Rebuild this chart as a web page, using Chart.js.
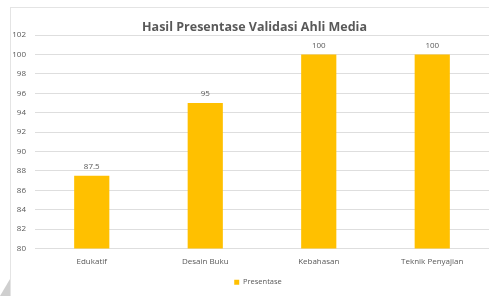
<!DOCTYPE html>
<html>
<head>
<meta charset="utf-8">
<script src="https://cdn.jsdelivr.net/npm/chart.js@4/dist/chart.umd.min.js"></script>
<style>
  html, body { margin: 0; padding: 0; background: #fff; }
  #wrap { width: 489px; height: 296px; position: relative; }
</style>
</head>
<body>
<div id="wrap"><canvas id="chart" width="489" height="296"></canvas></div>
<script>
const categories = ['Edukatif', 'Desain Buku', 'Kebahasan', 'Teknik Penyajian'];
const presentase = [87.5, 95, 100, 100];
const yMin = 80;
const yMax = 102;
const yStep = 2;

const textGrey = '#595959';
const fontFamily = '"Open Sans", "Noto Sans", sans-serif';

// frame + the grey corner of the scanned page
const framePlugin = {
    id: 'frame',
    beforeDraw(chart) {
        const ctx = chart.ctx;
        ctx.save();
        ctx.fillStyle = '#fff';
        ctx.fillRect(0, 0, chart.width, chart.height);
        ctx.strokeStyle = '#e4e4e4';
        ctx.lineWidth = 1;
        ctx.strokeRect(10.5, 7.5, chart.width, chart.height);
        ctx.fillStyle = '#cfcfcf';
        ctx.beginPath();
        ctx.moveTo(0, chart.height);
        ctx.lineTo(10, 279);
        ctx.lineTo(10, chart.height);
        ctx.closePath();
        ctx.fill();
        ctx.restore();
    },
    // centre title and legend on the framed box rather than the full canvas
    afterLayout(chart) {
        if (chart.titleBlock) chart.titleBlock.left = 20;
        if (chart.legend) chart.legend.left = 27;
    }
};

const valueLabels = {
    id: 'valueLabels',
    afterDatasetsDraw(chart) {
        const ctx = chart.ctx;
        ctx.save();
        ctx.font = '8px ' + fontFamily;
        ctx.fillStyle = textGrey;
        ctx.textAlign = 'center';
        ctx.textBaseline = 'bottom';
        chart.getDatasetMeta(0).data.forEach((bar, i) => {
            ctx.fillText(String(presentase[i]), bar.x, bar.y - 5);
        });
        ctx.restore();
    }
};

new Chart(document.getElementById('chart'), {
    type: 'bar',
    data: {
        labels: categories,
        datasets: [{
            label: 'Presentase',
            data: presentase,
            backgroundColor: '#FFC000',
            borderWidth: 0,
            categoryPercentage: 1,
            barPercentage: 0.31
        }]
    },
    options: {
        responsive: false,
        animation: false,
        layout: { padding: 0 },
        plugins: {
            title: {
                display: true,
                text: 'Hasil Presentase Validasi Ahli Media',
                color: textGrey,
                font: { family: fontFamily, size: 12.5, weight: 'bold' },
                padding: { top: 20, bottom: 0 }
            },
            legend: {
                position: 'bottom',
                labels: {
                    color: textGrey,
                    font: { family: fontFamily, size: 7.5 },
                    boxWidth: 5,
                    boxHeight: 5,
                    padding: 8
                }
            },
            tooltip: { enabled: false }
        },
        scales: {
            x: {
                grid: { display: false, drawTicks: false },
                border: { display: false },
                ticks: { color: textGrey, font: { family: fontFamily, size: 8 }, padding: 8 },
                afterFit(scale) { scale.height = 22; }
            },
            y: {
                min: yMin,
                max: yMax,
                grid: { color: '#dedede', drawTicks: false },
                border: { display: false },
                ticks: { stepSize: yStep, color: textGrey, font: { family: fontFamily, size: 8 }, padding: 9 },
                afterFit(scale) { scale.width = 35; }
            }
        }
    },
    plugins: [framePlugin, valueLabels]
});
</script>
</body>
</html>
